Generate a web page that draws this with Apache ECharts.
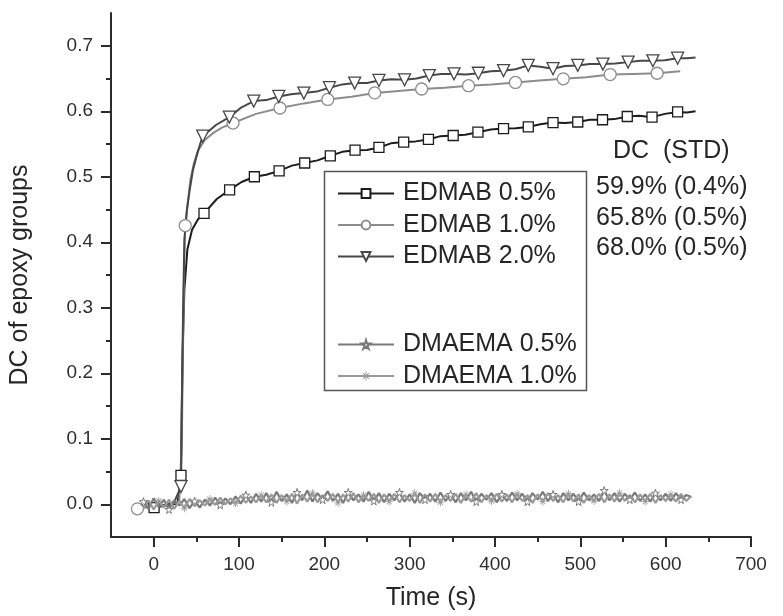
<!DOCTYPE html>
<html>
<head>
<meta charset="utf-8">
<script src="https://cdn.jsdelivr.net/npm/echarts@6/dist/echarts.min.js"></script>
<style>
html, body { margin: 0; padding: 0; background: #fff; }
#chart { width: 783px; height: 616px; }
</style>
</head>
<body>
<div id="chart"></div>
<script>
// tick values
var yMajor = [0, 0.1, 0.2, 0.3, 0.4, 0.5, 0.6, 0.7];
var yMinor = [0.05, 0.15, 0.25, 0.35, 0.45, 0.55, 0.65];
var xMajor = [0, 100, 200, 300, 400, 500, 600, 700];
var xMinor = [50, 150, 250, 350, 450, 550, 650];

var names = ["EDMAB 0.5%", "EDMAB 1.0%", "EDMAB 2.0%", "DMAEMA 0.5%", "DMAEMA 1.0%"];
var dcText = ["59.9% (0.4%)", "65.8% (0.5%)", "68.0% (0.5%)"];

// EDMAB 0.5% : points with markers, and plain line points
var edmab05Marks = [[0.5, -0.005], [32, 0.044], [59, 0.444], [89, 0.480], [118, 0.500], [147, 0.509],
    [177, 0.521], [207, 0.532], [236, 0.5405], [264, 0.5447], [293, 0.553], [322, 0.557], [351, 0.563],
    [380, 0.568], [410, 0.5735], [439, 0.576], [468, 0.5827], [497, 0.5836], [526, 0.587], [555, 0.592],
    [584, 0.591], [614, 0.599]];
var edmab05Line = [[-15, -0.003], [15, -0.002], [28, 0.001], [33, 0.15], [34, 0.236], [36, 0.328],
    [39.5, 0.389], [45, 0.419], [52, 0.435], [74, 0.466], [103, 0.492], [132, 0.503], [162, 0.517],
    [192, 0.525], [221, 0.538], [250, 0.541], [278, 0.551], [307, 0.554], [336, 0.562], [365, 0.564],
    [395, 0.572], [424, 0.574], [453, 0.580], [482, 0.582], [511, 0.587], [540, 0.588], [569, 0.593],
    [599, 0.596], [625, 0.598], [635, 0.600]];

// EDMAB 1.0%
var edmab10Marks = [[-19, -0.007], [37, 0.4255], [93, 0.582], [148, 0.605], [204, 0.618], [259, 0.628],
    [314, 0.634], [369, 0.639], [424, 0.644], [480, 0.6495], [535, 0.656], [590, 0.658]];
var edmab10Line = [[0, -0.003], [20, 0.0], [30, 0.004], [33, 0.1], [34.5, 0.25], [36, 0.38], [40, 0.46],
    [43, 0.495], [47, 0.52], [52, 0.54], [60, 0.556], [70, 0.567], [80, 0.575], [120, 0.596], [176, 0.612],
    [232, 0.622], [287, 0.631], [341, 0.636], [396, 0.641], [452, 0.647], [507, 0.652], [562, 0.657],
    [617, 0.661]];

// EDMAB 2.0%
var edmab20Marks = [[32, 0.027], [57.5, 0.562], [88.7, 0.591], [117.3, 0.6155], [146.6, 0.6226],
    [176, 0.6277], [206, 0.636], [235.6, 0.643], [264, 0.647], [294, 0.648], [323, 0.6545], [352, 0.657],
    [380.5, 0.658], [410, 0.662], [439, 0.670], [468, 0.665], [497, 0.670], [526.5, 0.672], [556, 0.675],
    [585, 0.677], [614, 0.681]];
var edmab20Line = [[-12, 0.002], [10, -0.002], [24, 0.003], [33, 0.15], [34.5, 0.30], [36, 0.404],
    [39, 0.45], [42, 0.478], [46, 0.51], [50, 0.53], [54, 0.548], [73, 0.579], [103, 0.606], [132, 0.617],
    [161, 0.626], [191, 0.630], [221, 0.641], [250, 0.643], [279, 0.649], [308, 0.650], [337, 0.657],
    [366, 0.656], [395, 0.661], [424, 0.664], [453, 0.668], [482, 0.669], [511, 0.672], [541, 0.673],
    [570, 0.677], [599, 0.678], [625, 0.681], [635, 0.682]];

// DMAEMA (noisy baseline) sampling times and values
var noiseTime = [-12, -6, 0, 6, 12, 18, 24, 30, 36, 42, 48, 54, 60, 66, 72, 78, 84, 90, 96, 102, 108, 114,
    120, 126, 132, 138, 144, 150, 156, 162, 168, 174, 180, 186, 192, 198, 204, 210, 216, 222, 228, 234,
    240, 246, 252, 258, 264, 270, 276, 282, 288, 294, 300, 306, 312, 318, 324, 330, 336, 342, 348, 354,
    360, 366, 372, 378, 384, 390, 396, 402, 408, 414, 420, 426, 432, 438, 444, 450, 456, 462, 468, 474,
    480, 486, 492, 498, 504, 510, 516, 522, 528, 534, 540, 546, 552, 558, 564, 570, 576, 582, 588, 594,
    600, 606, 612, 618, 624, 630];
var dmaema05 = [0.004, -0.007, 0.009, -0.004, 0.007, -0.008, 0.006, -0.002, 0.008, -0.006, 0.005, -0.005,
    0.007, -0.002, 0.010, -0.001, 0.009, 0.000, 0.012, 0.001, 0.014, 0.002, 0.016, 0.004,
    0.017, 0.003, 0.019, 0.005, 0.015, 0.002, 0.018, 0.006, 0.021, 0.004, 0.017, 0.007,
    0.020, 0.005, 0.016, 0.002, 0.018, 0.006, 0.015, 0.004, 0.019, 0.005, 0.017, 0.003,
    0.016, 0.006, 0.018, 0.004, 0.015, 0.002, 0.017, 0.007, 0.016, 0.004, 0.018, 0.005,
    0.015, 0.003, 0.017, 0.006, 0.019, 0.004, 0.016, 0.007, 0.017, 0.003, 0.015, 0.005,
    0.018, 0.006, 0.016, 0.004, 0.017, 0.007, 0.019, 0.005, 0.015, 0.003, 0.017, 0.006,
    0.016, 0.004, 0.018, 0.006, 0.015, 0.005, 0.021, 0.006, 0.017, 0.004, 0.016, 0.007,
    0.018, 0.005, 0.015, 0.004, 0.017, 0.006, 0.016, 0.005, 0.017, 0.007, 0.014, 0.011];
var dmaema10 = [-0.006, 0.006, -0.008, 0.005, -0.005, 0.007, -0.007, 0.005, -0.006, 0.008, -0.003, 0.006,
    -0.002, 0.008, -0.001, 0.010, 0.000, 0.009, 0.001, 0.013, 0.002, 0.012, 0.003, 0.014,
    0.003, 0.015, 0.002, 0.014, 0.004, 0.016, 0.001, 0.015, 0.004, 0.017, 0.003, 0.014,
    0.005, 0.016, 0.002, 0.015, 0.004, 0.017, 0.003, 0.014, 0.005, 0.016, 0.002, 0.015,
    0.004, 0.016, 0.003, 0.014, 0.005, 0.017, 0.002, 0.015, 0.004, 0.016, 0.003, 0.014,
    0.005, 0.016, 0.002, 0.015, 0.004, 0.017, 0.003, 0.014, 0.005, 0.016, 0.004, 0.015,
    0.003, 0.016, 0.005, 0.014, 0.002, 0.015, 0.004, 0.017, 0.005, 0.014, 0.003, 0.016,
    0.004, 0.015, 0.002, 0.014, 0.005, 0.016, 0.003, 0.015, 0.004, 0.017, 0.005, 0.014,
    0.003, 0.015, 0.004, 0.016, 0.002, 0.014, 0.005, 0.015, 0.004, 0.016, 0.005, 0.012];

var colors = ["#1c1c1c", "#8c8c8c", "#474747", "#7a7a7a", "#9a9a9a"];
var FONT = "Liberation Sans";
var TXT = "#262626";

var starPath = "path://M50,0 L61,35 L98,35 L68,57 L79,91 L50,70 L21,91 L32,57 L2,35 L39,35 Z";
var astPath = "path://M45,0 H55 V100 H45 Z M0,45 H100 V55 H0 Z M14,21 L21,14 L86,79 L79,86 Z M79,14 L86,21 L21,86 L14,79 Z";

//合并带标记点和不带标记点的数据
function buildData(marks, line) {
    var pts = [];
    for (var i = 0; i < marks.length; i++) {
        pts.push({ value: marks[i] });
    }
    for (var j = 0; j < line.length; j++) {
        pts.push({ value: line[j], symbol: "none" });
    }
    pts.sort(function(a, b) { return a.value[0] - b.value[0]; });
    return pts;
}

//噪声曲线, 每隔 step 个点显示一个标记
function buildNoise(vals, step, offset) {
    var pts = [];
    for (var i = 0; i < vals.length; i++) {
        var p = { value: [noiseTime[i], vals[i]] };
        if ((i + offset) % step != 0) p.symbol = "none";
        pts.push(p);
    }
    return pts;
}

function edSeries(idx, data, symbol, size, rotate) {
    return {
        name: names[idx],
        type: "line",
        data: data,
        symbol: symbol,
        symbolSize: size,
        symbolRotate: rotate || 0,
        lineStyle: { color: colors[idx], width: 2 },
        itemStyle: { color: "#fff", borderColor: colors[idx], borderWidth: 1.3 },
        z: 3
    };
}

var chart = echarts.init(document.getElementById("chart"));

var legendBase = {
    orient: "vertical",
    left: 332,
    itemWidth: 56,
    itemHeight: 11,
    itemGap: 6.5,
    selectedMode: false,
    textStyle: { fontFamily: FONT, fontSize: 25, color: TXT, lineHeight: 24, padding: [0, 0, 0, 4] }
};

var axisColor = "#2b2b2b";
var font25 = "25px '" + FONT + "'";

var option = {
    backgroundColor: "#fff",
    animation: false,
    grid: { left: 111, top: 13, width: 640, height: 525 },
    xAxis: [{
        type: "value", min: -50, max: 700,
        name: "Time (s)", nameLocation: "middle", nameGap: 49,
        nameTextStyle: { fontFamily: FONT, fontSize: 25, color: TXT },
        axisLine: { onZero: false, lineStyle: { color: axisColor, width: 2 } },
        axisTick: { customValues: xMajor, length: 10, lineStyle: { color: axisColor, width: 2 } },
        axisLabel: { customValues: xMajor, margin: 18, fontFamily: FONT, fontSize: 19, color: "#2e2e2e" },
        splitLine: { show: false }
    }, {
        type: "value", min: -50, max: 700, position: "bottom",
        axisLine: { show: false, onZero: false },
        axisTick: { customValues: xMinor, length: 5, lineStyle: { color: axisColor, width: 2 } },
        axisLabel: { show: false },
        splitLine: { show: false }
    }],
    yAxis: [{
        type: "value", min: -0.05, max: 0.75,
        name: "DC of epoxy groups", nameLocation: "middle", nameGap: 78,
        nameTextStyle: { fontFamily: FONT, fontSize: 25, color: TXT },
        axisLine: { show: true, onZero: false, lineStyle: { color: axisColor, width: 2 } },
        axisTick: { show: true, customValues: yMajor, length: 10, lineStyle: { color: axisColor, width: 2 } },
        axisLabel: {
            customValues: yMajor, margin: 18, fontFamily: FONT, fontSize: 19, color: "#2e2e2e",
            formatter: function(v) { return v.toFixed(1); }
        },
        splitLine: { show: false }
    }, {
        type: "value", min: -0.05, max: 0.75, position: "left",
        axisLine: { show: false, onZero: false },
        axisTick: { show: true, customValues: yMinor, length: 5, lineStyle: { color: axisColor, width: 2 } },
        axisLabel: { show: false },
        splitLine: { show: false }
    }],
    legend: [
        Object.assign({}, legendBase, { top: 176, data: names.slice(0, 3) }),
        Object.assign({}, legendBase, { top: 327, data: names.slice(3) })
    ],
    graphic: [
        { type: "rect", left: 322, top: 169, shape: { width: 262, height: 219 },
          style: { fill: "none", stroke: "#555", lineWidth: 1.5 }, z: 10 },
        { type: "text", left: 613, top: 139, style: { text: "DC  (STD)", font: font25, fill: TXT } },
        { type: "text", left: 596, top: 175, style: { text: dcText[0], font: font25, fill: TXT } },
        { type: "text", left: 596, top: 206, style: { text: dcText[1], font: font25, fill: TXT } },
        { type: "text", left: 596, top: 236, style: { text: dcText[2], font: font25, fill: TXT } }
    ],
    series: [
        edSeries(0, buildData(edmab05Marks, edmab05Line), "rect", 10),
        edSeries(1, buildData(edmab10Marks, edmab10Line), "circle", 12),
        edSeries(2, buildData(edmab20Marks, edmab20Line), "triangle", 12, 180),
        {
            name: names[3], type: "line", data: buildNoise(dmaema05, 5, 0),
            symbol: starPath, symbolSize: 8,
            lineStyle: { color: colors[3], width: 2.2 },
            itemStyle: { color: "#fff", borderColor: colors[3], borderWidth: 1 },
            z: 4
        },
        {
            name: names[4], type: "line", data: buildNoise(dmaema10, 5, 2),
            symbol: astPath, symbolSize: 8,
            lineStyle: { color: colors[4], width: 2.2 },
            itemStyle: { color: colors[4] },
            z: 4
        }
    ]
};

chart.setOption(option);
</script>
</body>
</html>
